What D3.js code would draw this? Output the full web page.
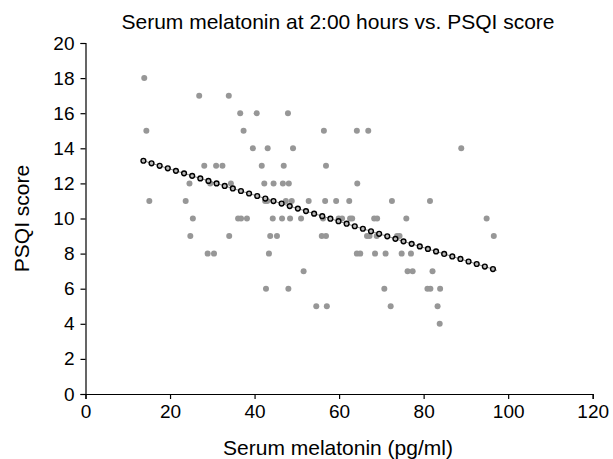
<!DOCTYPE html>
<html>
<head>
<meta charset="utf-8">
<script src="https://cdn.jsdelivr.net/npm/d3@7"></script>
<style>
  body { margin: 0; background: #fff; }
  svg { font-family: "Liberation Sans", Arial, sans-serif; }
</style>
</head>
<body>
<div id="app"></div>
<script>
// PSQI score levels and the melatonin values (pg/ml) of the points at each level
const psqiLevels = [18, 17, 16, 15, 14, 13, 12, 11, 10, 9, 8, 7, 6, 5, 4];
const melatoninByLevel = [
  [13.9],
  [26.9, 33.9],
  [36.6, 40.5, 47.9],
  [14.4, 37.4, 56.4, 64.2, 66.9],
  [39.6, 43.1, 49.1, 88.9],
  [28.1, 30.9, 32.4, 41.7, 46.9, 56.9],
  [24.6, 29.5, 34.4, 42.3, 44.5, 46.7, 48.1, 64.3],
  [15.1, 23.7, 42.5, 43.0, 47.4, 48.8, 52.8, 56.7, 59.3, 62.4, 72.5, 81.5],
  [25.4, 36.1, 36.8, 38.2, 44.3, 46.5, 48.4, 51.0, 56.2, 59.9, 60.7, 62.6, 63.1, 68.3, 69.0, 75.9, 94.9],
  [24.8, 34.0, 43.7, 45.3, 55.9, 56.9, 66.6, 67.2, 68.9, 73.7, 74.3, 96.6],
  [28.9, 30.4, 43.4, 64.2, 65.0, 68.5, 71.0, 74.8, 77.0],
  [51.6, 76.2, 77.4, 82.1],
  [42.7, 48.0, 70.7, 80.9, 81.6, 83.9],
  [54.6, 57.1, 72.2, 83.3],
  [83.8]
];
// linear trend line end points
const trendX = [13.7, 96.4];
const trendY = [13.29, 7.12];

const xTicks = [0, 20, 40, 60, 80, 100, 120];
const yTicks = [0, 2, 4, 6, 8, 10, 12, 14, 16, 18, 20];

const width = 613, height = 459;
const margin = { left: 85.5, right: 20, top: 43, bottom: 65 };

const points = [];
psqiLevels.forEach((lv, i) => melatoninByLevel[i].forEach(m => points.push({ x: m, y: lv })));

const svg = d3.select("#app").append("svg")
  .attr("width", width)
  .attr("height", height);

const x = d3.scaleLinear().domain([0, 120]).range([margin.left, 592.7]);
const y = d3.scaleLinear().domain([0, 20]).range([394, margin.top]);

// axes
const xAxis = svg.append("g")
  .attr("transform", `translate(0,${y(0)})`)
  .call(d3.axisBottom(x).tickValues(xTicks).tickSize(5).tickPadding(6));
const yAxis = svg.append("g")
  .attr("transform", `translate(${x(0)},0)`)
  .call(d3.axisLeft(y).tickValues(yTicks).tickSize(5).tickPadding(6));

[xAxis, yAxis].forEach(a => {
  a.select(".domain").attr("stroke", "#000").attr("stroke-width", 1.2);
  a.selectAll(".tick line").attr("stroke", "#000").attr("stroke-width", 1.2);
  a.selectAll("text").attr("fill", "#000").style("font-size", "19px")
    .style("font-family", "Liberation Sans, Arial, sans-serif");
});

// scatter points
svg.append("g").selectAll("circle")
  .data(points)
  .enter().append("circle")
  .attr("cx", d => x(d.x))
  .attr("cy", d => y(d.y))
  .attr("r", 3)
  .attr("fill", "#979797");

// trend line: thin line with small circle markers
const tx0 = x(trendX[0]), ty0 = y(trendY[0]);
const tx1 = x(trendX[1]), ty1 = y(trendY[1]);
svg.append("line")
  .attr("x1", tx0).attr("y1", ty0)
  .attr("x2", tx1 + 4).attr("y2", ty1 + 1.3)
  .attr("stroke", "#888")
  .attr("stroke-width", 1);

const len = Math.hypot(tx1 - tx0, ty1 - ty0);
const nMarks = Math.round(len / 8.6);
svg.append("g").selectAll("circle")
  .data(d3.range(nMarks + 1).map(i => i / nMarks))
  .enter().append("circle")
  .attr("cx", t => tx0 + t * (tx1 - tx0))
  .attr("cy", t => ty0 + t * (ty1 - ty0))
  .attr("r", 2.4)
  .attr("fill", "#bbb")
  .attr("stroke", "#000")
  .attr("stroke-width", 1.4);

// titles
svg.append("text")
  .attr("x", 338)
  .attr("y", 29)
  .attr("text-anchor", "middle")
  .style("font-size", "21px")
  .text("Serum melatonin at 2:00 hours vs. PSQI score");

svg.append("text")
  .attr("x", 338)
  .attr("y", 455)
  .attr("text-anchor", "middle")
  .style("font-size", "21px")
  .text("Serum melatonin (pg/ml)");

svg.append("text")
  .attr("transform", `translate(29,${(y(0) + y(20)) / 2}) rotate(-90)`)
  .attr("text-anchor", "middle")
  .style("font-size", "21px")
  .text("PSQI score");
</script>
</body>
</html>
